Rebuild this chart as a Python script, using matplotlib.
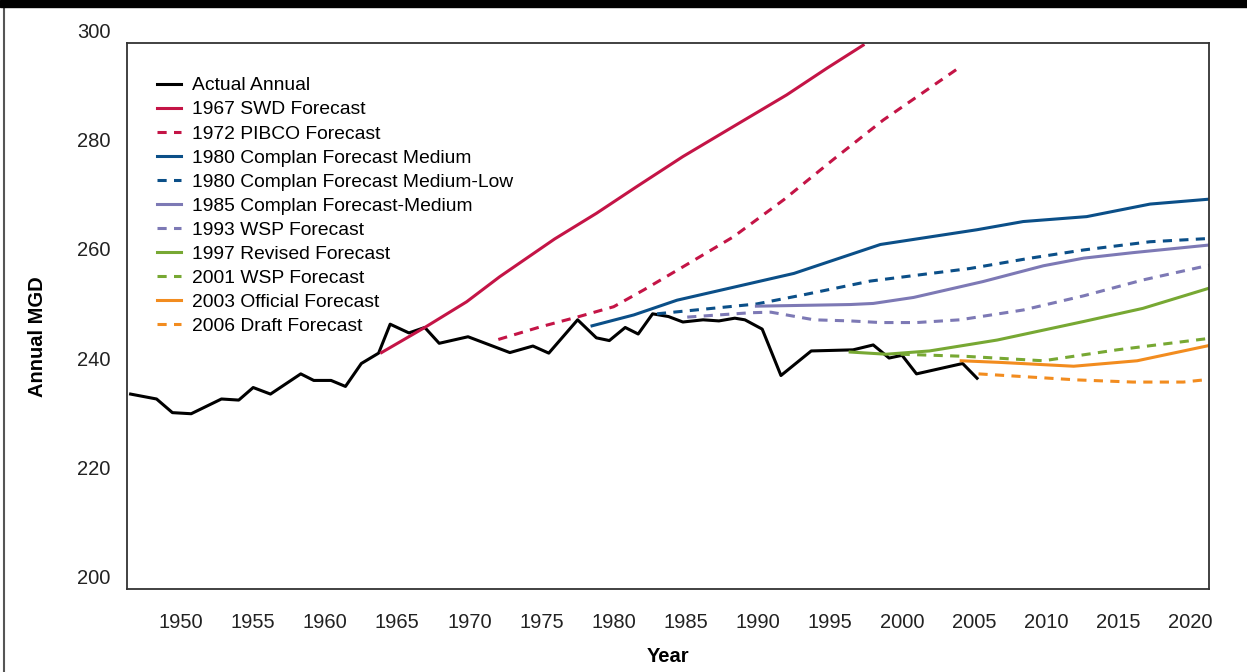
import matplotlib
matplotlib.use("Agg")
import matplotlib.pyplot as plt
import matplotlib.transforms as mtransforms
from matplotlib.patches import Rectangle
from matplotlib.lines import Line2D

plt.rcParams['font.family'] = ['Liberation Sans', 'DejaVu Sans']

# Actual annual demand
actual_years = [1946.5, 1948.3, 1949.4, 1950.7, 1952.8, 1954.0, 1955.0, 1956.2, 1958.3, 1959.2,
                1960.4, 1961.4, 1962.5, 1963.7, 1964.5, 1965.8, 1966.9, 1967.9, 1969.9, 1972.8,
                1974.4, 1975.5, 1977.5, 1978.8, 1979.7, 1980.8, 1981.7, 1982.7, 1983.8, 1984.8,
                1986.2, 1987.3, 1988.4, 1989.1, 1990.3, 1991.6, 1993.7, 1996.6, 1998.0, 1999.1,
                2000.0, 2001.0, 2004.2, 2005.2]
actual_mgd = [235.7, 234.8, 232.3, 232.1, 234.8, 234.6, 236.9, 235.7, 239.4, 238.2,
              238.2, 237.1, 241.3, 243.2, 248.5, 246.9, 247.9, 245.0, 246.2, 243.3,
              244.5, 243.2, 249.3, 246.0, 245.5, 247.9, 246.7, 250.4, 249.9, 248.9,
              249.3, 249.1, 249.6, 249.3, 247.6, 239.1, 243.6, 243.8, 244.7, 242.3,
              242.8, 239.4, 241.3, 238.6]

# Forecasts
swd1967_years = [1963.9, 1966.9, 1969.8, 1972.1, 1975.9, 1978.8, 1981.6, 1984.8, 1988.3, 1992.0, 1994.8, 1997.3]
swd1967_mgd = [243.3, 247.9, 252.6, 257.2, 264.1, 268.8, 273.7, 279.2, 284.7, 290.5, 295.4, 299.6]

pibco1972_years = [1972.0, 1974.9, 1977.6, 1980.0, 1982.1, 1984.8, 1988.3, 1991.8, 1995.2, 1998.7, 2003.8]
pibco1972_mgd = [245.7, 248.0, 249.9, 251.7, 254.8, 259.0, 264.5, 271.3, 278.6, 285.9, 295.2]

complan80_med_years = [1978.5, 1981.4, 1984.4, 1992.5, 1998.5, 2005.2, 2008.4, 2012.8, 2017.2, 2021.3]
complan80_med_mgd = [248.2, 250.2, 252.9, 257.8, 263.1, 265.8, 267.3, 268.2, 270.5, 271.4]

complan80_ml_years = [1983.0, 1989.9, 1993.2, 1997.8, 2004.7, 2008.9, 2012.6, 2017.2, 2021.3]
complan80_ml_mgd = [250.4, 252.2, 253.9, 256.4, 258.7, 260.6, 262.1, 263.6, 264.2]

complan85_years = [1989.9, 1996.4, 1998.0, 2000.8, 2005.6, 2009.8, 2012.6, 2016.0, 2021.3]
complan85_mgd = [251.8, 252.1, 252.3, 253.4, 256.3, 259.2, 260.6, 261.6, 263.0]

wsp1993_years = [1985.1, 1989.5, 1990.9, 1993.9, 1996.4, 1998.5, 2001.0, 2004.0, 2008.4, 2012.6, 2016.7, 2021.3]
wsp1993_mgd = [249.8, 250.6, 250.7, 249.3, 249.1, 248.8, 248.8, 249.3, 251.1, 253.7, 256.6, 259.3]

revised1997_years = [1996.4, 1998.9, 2001.9, 2006.6, 2012.6, 2016.7, 2021.3]
revised1997_mgd = [243.4, 243.0, 243.6, 245.6, 249.0, 251.4, 255.1]

wsp2001_years = [1999.9, 2004.5, 2009.8, 2014.9, 2021.3]
wsp2001_mgd = [243.0, 242.6, 241.8, 243.8, 245.9]

official2003_years = [2004.1, 2006.8, 2011.9, 2016.3, 2021.3]
official2003_mgd = [241.8, 241.5, 240.8, 241.8, 244.6]

draft2006_years = [2005.3, 2012.1, 2016.0, 2019.5, 2021.3]
draft2006_mgd = [239.4, 238.3, 237.9, 237.9, 238.4]

labels = ['Actual Annual', '1967 SWD Forecast', '1972 PIBCO Forecast',
          '1980 Complan Forecast Medium', '1980 Complan Forecast Medium-Low',
          '1985 Complan Forecast-Medium', '1993 WSP Forecast', '1997 Revised Forecast',
          '2001 WSP Forecast', '2003 Official Forecast', '2006 Draft Forecast']

red = '#C41446'
blue = '#0B4F88'
purple = '#7D79B5'
green = '#77A833'
orange = '#F28C1F'

series = [
    (actual_years, actual_mgd, 'black', '-'),
    (swd1967_years, swd1967_mgd, red, '-'),
    (pibco1972_years, pibco1972_mgd, red, '--'),
    (complan80_med_years, complan80_med_mgd, blue, '-'),
    (complan80_ml_years, complan80_ml_mgd, blue, '--'),
    (complan85_years, complan85_mgd, purple, '-'),
    (wsp1993_years, wsp1993_mgd, purple, '--'),
    (revised1997_years, revised1997_mgd, green, '-'),
    (wsp2001_years, wsp2001_mgd, green, '--'),
    (official2003_years, official2003_mgd, orange, '-'),
    (draft2006_years, draft2006_mgd, orange, '--'),
]

fig = plt.figure(figsize=(12.47, 6.72), dpi=100)
ax = fig.add_axes([127 / 1247, 1 - 589 / 672, (1208.5 - 127) / 1247, (589 - 43) / 672])

for (xs, ys, c, ls), lab in zip(series, labels):
    if ls == '--':
        ax.plot(xs, ys, color=c, lw=2.2, dashes=(3, 2.4), label=lab)
    else:
        ax.plot(xs, ys, color=c, lw=2.2, label=lab)

ax.set_xlim(1946.25, 2021.25)
ax.set_ylim(200, 300)
ax.set_xticks(range(1950, 2021, 5))
ax.set_yticks(range(200, 301, 20))
ax.tick_params(length=0, labelsize=14.5, colors='#222222')
ax.tick_params(axis='x', pad=17)
ax.tick_params(axis='y', pad=12)

# tick labels sit a little above their positions in the original
off = mtransforms.ScaledTranslation(0, 9 / 72, fig.dpi_scale_trans)
for t in ax.get_yticklabels():
    t.set_transform(t.get_transform() + off)

for s in ax.spines.values():
    s.set_color('#333333')
    s.set_linewidth(1.3)

ax.set_xlabel('Year', fontsize=14.5, fontweight='bold')
ax.set_ylabel('Annual MGD', fontsize=14.5, fontweight='bold')
ax.xaxis.set_label_coords(0.5, -0.106)
ax.yaxis.set_label_coords(-0.074, 0.4615)

ax.legend(loc='upper left', bbox_to_anchor=(0.0277, 0.938), frameon=False, fontsize=13.9,
          handlelength=1.24, handletextpad=0.57, labelspacing=0.34, borderpad=0,
          borderaxespad=0)

# page frame: black bar on top, grey rule on the left
fig.add_artist(Rectangle((0, 1 - 7 / 672), 1, 7 / 672, transform=fig.transFigure,
                         color='black', zorder=10))
fig.add_artist(Line2D([3.5 / 1247, 3.5 / 1247], [0, 1], transform=fig.transFigure,
                      color='#555555', lw=1.5))

fig.savefig('out.png', dpi=100)
